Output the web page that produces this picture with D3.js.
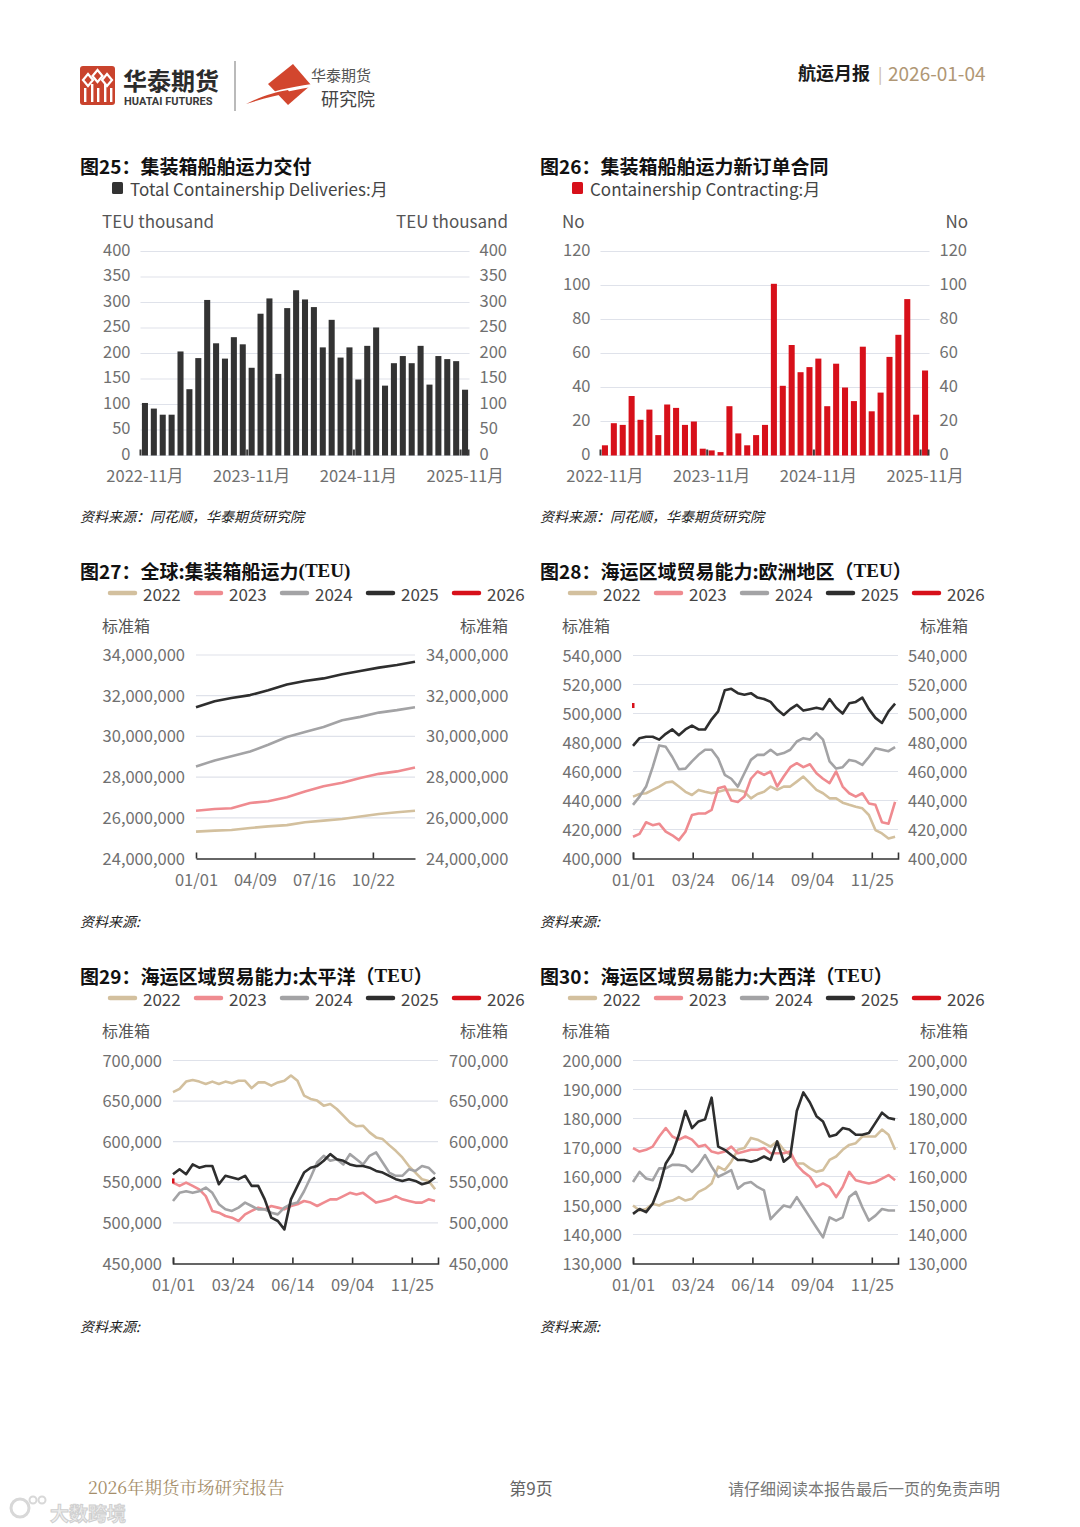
<!DOCTYPE html>
<html><head><meta charset="utf-8">
<script src="https://cdn.jsdelivr.net/npm/d3@7"></script>
<style>body{margin:0;background:#fff}svg{display:block}</style>
</head><body>
<svg id="page" width="1080" height="1527"></svg>
<script>
// ---------------- DATA ----------------
const barMonths = ["2022-11","2022-12","2023-01","2023-02","2023-03","2023-04","2023-05","2023-06","2023-07","2023-08","2023-09","2023-10",
 "2023-11","2023-12","2024-01","2024-02","2024-03","2024-04","2024-05","2024-06","2024-07","2024-08","2024-09","2024-10",
 "2024-11","2024-12","2025-01","2025-02","2025-03","2025-04","2025-05","2025-06","2025-07","2025-08","2025-09","2025-10","2025-11"];
const deliveries = [103,92,80,80,204,130,191,305,220,190,232,218,172,278,308,160,289,324,306,291,212,266,192,212,149,215,251,137,181,195,181,215,139,195,189,185,129];
const contracting = [6,19,18,35,21,27,12,30,28,18,20,4,3,2,29,13,6,12,18,101,41,65,49,52,57,29,54,40,32,64,26,37,58,71,92,24,50];
const deliveryTicks = [0,50,100,150,200,250,300,350,400];
const contractTicks = [0,20,40,60,80,100,120];
const barXLabels = ["2022-11","2023-11","2024-11","2025-11"];

const years = ["2022","2023","2024","2025","2026"];

// Global fleet (million TEU), monthly
const globalDates = ["01-01","02-01","03-01","04-01","05-01","06-01","07-01","08-01","09-01","10-01","11-01","12-01","12-31"];
const glb2022 = [25.32,25.37,25.40,25.50,25.58,25.64,25.78,25.86,25.94,26.06,26.19,26.27,26.35];
const glb2023 = [26.35,26.43,26.47,26.73,26.81,27.01,27.29,27.55,27.72,27.96,28.16,28.28,28.47];
const glb2024 = [28.52,28.82,29.02,29.26,29.59,29.97,30.22,30.46,30.79,30.96,31.17,31.29,31.43];
const glb2025 = [31.43,31.73,31.89,32.03,32.27,32.55,32.72,32.85,33.05,33.21,33.38,33.51,33.67];
const glb2026 = [];
const globalTicks = [24,26,28,30,32,34];           // million
const globalXTicks = ["01-01","04-09","07-16","10-22"];

// Regional trade capacity (thousand TEU), ~9-day samples
const tradeDates = ["01-01","01-10","01-19","01-28","02-06","02-15","02-24","03-05","03-14","03-23","04-01","04-10","04-19","04-28",
 "05-07","05-16","05-25","06-03","06-12","06-21","06-30","07-09","07-18","07-27","08-05","08-14","08-23","09-01","09-10","09-19",
 "09-28","10-07","10-16","10-25","11-03","11-12","11-21","11-30","12-09","12-18","12-27"];
const tradeXTicks = ["01-01","03-24","06-14","09-04","11-25"];

const eu2022 = [442.7,444.5,445,447.3,449.6,452.4,453,449.6,446,443.8,447.3,446,445,446,447.3,447.3,447.3,446,441.5,444.5,446,449.6,447.3,449.6,449.6,453,456.5,452,447.3,445,441.5,441.5,438.5,437,435.7,434.6,430,419.6,417.3,413.8,415];
const eu2023 = [415,417,425,423,424,418.5,416,412.7,418.5,430,431,431,433.5,448.5,449.6,440,439,442.7,455,460,457.7,460,449.6,456.5,463,465.7,463,465,458.8,455,452,460,449.6,445,442.7,445,438,437,425,424,439];
const eu2024 = [437,442.7,449.6,463,478,477,470,461.6,462,467,471.5,475,475,469,457.7,455,449.6,458.8,468,471.5,471.5,475,471.5,472.7,475,480.7,483,482,486.5,482,467,462,463,468,467,464.6,470,476,475,474,476.8];
const eu2025 = [477.7,483,484,484,482,486,489,485,489,491.6,489,489,496,501.5,516,517,514,513,514,511,510,508,502.7,499,503,506,502,503,504,503,510,504,500,507,508,511,503,497,493.5,501.5,506.8];
const eu2026 = [505.5];
const euTicks = [400,420,440,460,480,500,520,540];   // thousand

const pa2022 = [661,665,674,676,674,671,674,671,674,672,675,675,666,673,673,669,673,675,681.5,675,656.8,652.7,650.6,644.4,646.5,640.3,632,623.8,619,619.7,611.5,605.3,603.2,595.8,588.8,580.6,570,562,553.8,551.7,541.4];
const pa2023 = [549.7,545.6,549.7,545.6,541.4,533,514.7,512.6,508.5,506.4,502.3,510.5,514.7,518.8,516.7,520.8,518.8,516.7,520.8,523,527,525,520.8,525,529,529,533,537,535,537,531,525,527,529,533,529,527,525,525,529,527];
const pa2024 = [527,537,539,537,539,543.5,537,523,516.7,514.7,518.8,525,520.8,516.7,516.7,512.6,510.5,518.8,523,525,539,555.9,574.4,582.6,576.5,578.5,572,584.7,578.5,572,582.6,586.8,574.4,562,558,558,566,564,570,568,560];
const pa2025 = [560,566,560,572,568,570,570,547.6,558,555.9,553.8,558,545.6,545.6,529,506.4,502.3,492,529,545.6,562,568,570,576.5,584.7,578.5,576.5,572,570,570,568,564,562,558,553.8,551.7,553.8,551.7,547.6,549.7,555.9];
const pa2026 = [551.7];
const paTicks = [450,500,550,600,650,700];

const at2022 = [150,148.3,148.8,150.6,150,151.2,151.7,152.9,151.7,152.3,154.7,155.8,157.6,163.4,162.2,165.1,169.2,169.8,173.3,172.7,171.5,170.3,172.1,169.2,167.4,164.5,164.5,162.8,161.6,162.2,165.7,166.9,169.2,170.9,171.5,173.8,173.8,173.8,176.2,174.4,169.2];
const at2023 = [169.8,168.6,169.2,170.3,173.8,176.7,173.8,172.7,173.8,172.7,170.3,170.9,168.6,168,168.6,170.3,168,168.6,169.2,169.2,169.8,168,168,168,168.6,164,161.6,159.9,156.4,157.6,156.4,152.9,156.4,161.6,158.7,158.1,157.6,158.1,159.3,160.5,158.7];
const at2024 = [158.1,161.6,159.3,158.7,162.8,162.8,164,164,163.6,161.6,164,167.4,163.4,159.9,161,162.2,155.8,157.6,158.1,156.4,155.2,145.3,147.7,150,149.4,152.9,149.4,145.9,142.4,139,145.9,144.8,145.9,152.9,154.7,149.4,144.8,146.5,148.8,148.3,148.3];
const at2025 = [147.1,148.8,147.7,150.6,156.4,164.5,168,174.4,182.6,176.7,179,179.7,187.2,170.3,169.2,167.4,165.7,165.7,165.1,165.7,166.9,165.7,172.1,165.1,166.9,182.6,189,185.5,180.8,179,173.8,174.4,176.7,176.2,174.4,174.4,175,178.5,182,180.2,179.7];
const at2026 = [];
const atTicks = [130,140,150,160,170,180,190,200];

// ---------------- STYLE ----------------
const FONT = '"Noto Sans CJK SC","Noto Sans",sans-serif';
const yearColors = ["#d3c09e","#ef8b90","#a3a3a5","#2e2e2e","#d7101a"];
const GRID = "#dfe2ea", LABEL = "#707070";
const svg = d3.select("#page");
const parse = s => d3.timeParse("%Y-%m-%d")("2001-" + s);

function txt(x, y, s, o = {}) {
  return svg.append("text").attr("x", x).attr("y", y).attr("dominant-baseline", "central")
    .attr("font-family", o.family || FONT).attr("font-size", o.size || 17)
    .attr("font-weight", o.weight || "normal").attr("font-style", o.style || "normal")
    .attr("fill", o.fill || "#444").attr("text-anchor", o.anchor || "start").text(s);
}

// ---------------- HEADER ----------------
(function header() {
  const g = svg.append("g");
  g.append("rect").attr("x", 80).attr("y", 66).attr("width", 35).attr("height", 39).attr("rx", 3).attr("fill", "#c9432d");
  const w = "#fff";
  [[88, 74], [97.5, 70], [107, 74]].forEach(([cx, cy]) => {
    g.append("path").attr("d", `M${cx} ${cy} l5 6 l-5 6 l-5 -6 Z`).attr("fill", "none").attr("stroke", w).attr("stroke-width", 2.2);
  });
  [[84, 88], [91, 84], [97, 88], [104, 84], [110, 88]].forEach(([x, y]) => {
    g.append("rect").attr("x", x).attr("y", y).attr("width", 2.4).attr("height", 105 - y - 3).attr("fill", w);
  });
  txt(123, 79, "华泰期货", {size: 24, weight: "bold", fill: "#2b2b2b"});
  txt(124, 101, "HUATAI FUTURES", {size: 11, weight: "bold", fill: "#3a3a3a", family: "Roboto, Arial, sans-serif"});
  g.append("line").attr("x1", 235).attr("x2", 235).attr("y1", 61).attr("y2", 111).attr("stroke", "#8c8c8c").attr("stroke-width", 1.2);
  g.append("path").attr("d", "M268 84 L293 64 L311 85 L288 105 Z").attr("fill", "#d2462e");
  g.append("path").attr("d", "M246 104 C265 92 285 88 312 84 L312 87 C288 91 268 96 246 104 Z").attr("fill", "#fff");
  g.append("path").attr("d", "M246 104 C262 96 275 92 288 90 L290 93 C276 95 262 99 246 104 Z").attr("fill", "#d2462e");
  txt(311, 74, "华泰期货", {size: 15, fill: "#555"});
  txt(321, 97.5, "研究院", {size: 18, fill: "#444"});
  txt(798, 72, "航运月报", {size: 18, weight: "bold", fill: "#1a1a1a"});
  txt(878, 73, "|", {size: 16, fill: "#c9b79a"});
  txt(888, 72, "2026-01-04", {size: 19, fill: "#b09775"});
})();

// ---------------- BAR CHART ----------------
function barChart(o) {
  const g = svg.append("g");
  txt(o.left, o.titleY, o.title, {size: 19, weight: "bold", fill: "#111"});
  g.append("rect").attr("x", o.left + 32).attr("y", o.titleY + 17).attr("width", 11).attr("height", 12).attr("rx", 1.5).attr("fill", o.color);
  txt(o.left + 50, o.titleY + 23, o.legend, {size: 17, fill: "#444"});
  txt(o.left + 22, o.titleY + 55, o.unit, {size: 17, fill: "#555"});
  txt(o.left + 428, o.titleY + 55, o.unit, {size: 17, fill: "#555", anchor: "end"});
  const x = d3.scaleBand().domain(o.cats).range([o.x0, o.x1]).paddingInner(0.32).paddingOuter(0.16);
  const y = d3.scaleLinear().domain([0, o.ticks[o.ticks.length - 1]]).range([o.yBot, o.yTop]);
  g.selectAll("line.grid").data(o.ticks).join("line").attr("x1", o.x0).attr("x2", o.x1)
    .attr("y1", d => y(d)).attr("y2", d => y(d)).attr("stroke", GRID).attr("stroke-width", 1.2);
  o.ticks.forEach(t => {
    txt(o.x0 - 10, y(t) - 3, String(t), {size: 16.5, fill: LABEL, anchor: "end"});
    txt(o.x1 + 10, y(t) - 3, String(t), {size: 16.5, fill: LABEL});
  });
  g.selectAll("rect.bar").data(o.vals).join("rect").attr("class", "bar")
    .attr("x", (d, i) => x(o.cats[i])).attr("width", x.bandwidth())
    .attr("y", d => y(d)).attr("height", d => y(0) - y(d)).attr("fill", o.color);
  // small dark ticks
  const stubs = o.xLabels.map(c => x(c) - x.step() * 0.16).concat([o.x1 - 1]);
  g.selectAll("line.stub").data(stubs).join("line").attr("x1", d => d).attr("x2", d => d)
    .attr("y1", y(0)).attr("y2", y(0) - 6).attr("stroke", "#3a3a3a").attr("stroke-width", 2);
  const ax = d3.axisBottom(x).tickValues(o.xLabels).tickFormat(d => d + "月").tickSize(0);
  const axg = g.append("g").attr("transform", `translate(0,${y(0)})`).call(ax);
  axg.select(".domain").remove();
  axg.selectAll("text").attr("y", 19).attr("dy", null).attr("dominant-baseline", "central")
    .attr("font-family", FONT).attr("font-size", 16.5).attr("fill", LABEL);
  txt(o.left, o.sourceY, "资料来源：同花顺，华泰期货研究院", {size: 14, style: "italic", fill: "#222"});
}

barChart({left: 80, title: "图25：集装箱船舶运力交付", titleY: 165, legend: "Total Containership Deliveries:月",
  unit: "TEU thousand", color: "#333333", cats: barMonths, vals: deliveries, ticks: deliveryTicks, xLabels: barXLabels,
  x0: 140.5, x1: 469.5, yTop: 251.5, yBot: 455.5, sourceY: 516});
barChart({left: 540, title: "图26：集装箱船舶运力新订单合同", titleY: 165, legend: "Containership Contracting:月",
  unit: "No", color: "#d7101a", cats: barMonths, vals: contracting, ticks: contractTicks, xLabels: barXLabels,
  x0: 600.5, x1: 929.5, yTop: 251.5, yBot: 455.5, sourceY: 516});

// ---------------- LINE CHART ----------------
function lineChart(o) {
  const g = svg.append("g");
  const t = svg.append("text").attr("x", o.left).attr("y", o.titleY).attr("dominant-baseline", "central")
    .attr("font-size", 19).attr("font-weight", "bold").attr("fill", "#111").attr("font-family", FONT);
  o.title.forEach(([s, serif]) => t.append("tspan").attr("font-family", serif ? '"Liberation Serif","DejaVu Serif",serif' : FONT).text(s));
  // legend
  years.forEach((yr, i) => {
    const lx = o.left + 30 + i * 86;
    g.append("line").attr("x1", lx).attr("x2", lx + 25).attr("y1", o.titleY + 23).attr("y2", o.titleY + 23)
      .attr("stroke", yearColors[i]).attr("stroke-width", 4.5).attr("stroke-linecap", "round");
    txt(lx + 33, o.titleY + 23, yr, {size: 17, fill: "#444"});
  });
  txt(o.left + 22, o.titleY + 55, "标准箱", {size: 16, fill: "#555"});
  txt(o.left + 428, o.titleY + 55, "标准箱", {size: 16, fill: "#555", anchor: "end"});
  const x = d3.scaleTime().domain([parse("01-01"), parse("12-31")]).range([o.x0, o.x1]);
  const y = d3.scaleLinear().domain([o.ticks[0], o.ticks[o.ticks.length - 1]]).range([o.yBot, o.yTop]);
  const fmt = d3.format(",");
  g.selectAll("line.grid").data(o.ticks.slice(1)).join("line").attr("x1", o.x0).attr("x2", o.x1)
    .attr("y1", d => y(d)).attr("y2", d => y(d)).attr("stroke", GRID).attr("stroke-width", 1.2);
  o.ticks.forEach(tk => {
    const s = fmt(Math.round(tk * o.unitMul));
    txt(o.x0 - 11, y(tk) - 1, s, {size: 16.5, fill: LABEL, anchor: "end"});
    txt(o.labelR, y(tk) - 1, s, {size: 16.5, fill: LABEL});
  });
  const line = d3.line().x(d => x(d[0])).y(d => y(d[1]));
  o.series.forEach((vals, i) => {
    const pts = vals.map((v, j) => [parse(o.dates[j]), v]);
    if (pts.length > 1) {
      g.append("path").datum(pts).attr("d", line).attr("fill", "none").attr("stroke", yearColors[i])
        .attr("stroke-width", 2.6).attr("stroke-linejoin", "round");
    } else if (pts.length === 1) {
      g.append("rect").attr("x", x(pts[0][0]) - 1).attr("y", y(pts[0][1]) - 2.5).attr("width", 2.5).attr("height", 5).attr("fill", yearColors[i]);
    }
  });
  const ax = d3.axisBottom(x).tickValues(o.xTicks.map(parse)).tickFormat(d3.timeFormat("%m/%d"))
    .tickSize(-6).tickSizeOuter(o.endTick ? -6 : 0);
  const axg = g.append("g").attr("transform", `translate(0,${o.yBot})`).call(ax);
  axg.select(".domain").attr("stroke", "#333").attr("stroke-width", 1.6);
  axg.selectAll(".tick line").attr("stroke", "#333").attr("stroke-width", 1.6);
  axg.selectAll("text").attr("y", 20).attr("dy", null).attr("dominant-baseline", "central")
    .attr("font-family", FONT).attr("font-size", 16.5).attr("fill", LABEL);
  txt(o.left, o.sourceY, "资料来源:", {size: 14, style: "italic", fill: "#222"});
}

lineChart({left: 80, titleY: 570, title: [["图27：全球:集装箱船运力", false], ["(TEU)", true]],
  dates: globalDates, series: [glb2022, glb2023, glb2024, glb2025, glb2026], ticks: globalTicks, unitMul: 1e6,
  xTicks: globalXTicks, x0: 196, x1: 415, yTop: 655, yBot: 858.5, labelR: 426, endTick: false, sourceY: 921});
lineChart({left: 540, titleY: 570, title: [["图28：海运区域贸易能力:欧洲地区（", false], ["TEU", true], ["）", false]],
  dates: tradeDates, series: [eu2022, eu2023, eu2024, eu2025, eu2026], ticks: euTicks, unitMul: 1e3,
  xTicks: tradeXTicks, x0: 633, x1: 898, yTop: 655.5, yBot: 858.5, labelR: 908, endTick: true, sourceY: 921});
lineChart({left: 80, titleY: 975, title: [["图29：海运区域贸易能力:太平洋（", false], ["TEU", true], ["）", false]],
  dates: tradeDates, series: [pa2022, pa2023, pa2024, pa2025, pa2026], ticks: paTicks, unitMul: 1e3,
  xTicks: tradeXTicks, x0: 173, x1: 438, yTop: 1060.5, yBot: 1263.5, labelR: 449, endTick: true, sourceY: 1326});
lineChart({left: 540, titleY: 975, title: [["图30：海运区域贸易能力:大西洋（", false], ["TEU", true], ["）", false]],
  dates: tradeDates, series: [at2022, at2023, at2024, at2025, at2026], ticks: atTicks, unitMul: 1e3,
  xTicks: tradeXTicks, x0: 633, x1: 898, yTop: 1060.5, yBot: 1263.5, labelR: 908, endTick: true, sourceY: 1326});

// ---------------- FOOTER ----------------
txt(88, 1486, "2026年期货市场研究报告", {size: 17.5, fill: "#a58e6a", family: '"Noto Serif CJK SC","Noto Sans CJK SC",serif'});
txt(531, 1487, "第9页", {size: 17, fill: "#666", anchor: "middle"});
txt(1000, 1488, "请仔细阅读本报告最后一页的免责声明", {size: 16, fill: "#777", anchor: "end"});
svg.append("circle").attr("cx", 20).attr("cy", 1508).attr("r", 9).attr("fill", "none").attr("stroke", "#d8d8d8").attr("stroke-width", 3);
svg.append("circle").attr("cx", 33).attr("cy", 1500).attr("r", 3.5).attr("fill", "none").attr("stroke", "#d8d8d8").attr("stroke-width", 2);
svg.append("circle").attr("cx", 42).attr("cy", 1500).attr("r", 3.5).attr("fill", "none").attr("stroke", "#d8d8d8").attr("stroke-width", 2);
txt(50, 1512, "大数跨境", {size: 19, weight: "bold", fill: "#eeeeee"}).attr("stroke", "#cfcfcf").attr("stroke-width", 1);
</script>
</body></html>
